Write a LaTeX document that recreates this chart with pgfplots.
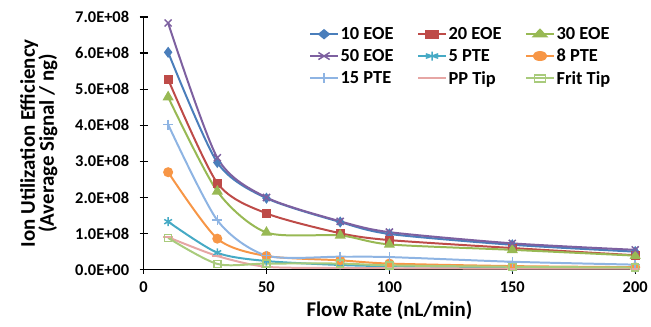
\documentclass[border=0pt]{standalone}
\usepackage{pgfplots}
\pgfplotsset{compat=1.18}
\usepackage{fontspec}
\setmainfont{Carlito}
\usetikzlibrary{plotmarks}
\definecolor{cA}{HTML}{4A7EBB}
\definecolor{cB}{HTML}{BE4B48}
\definecolor{cC}{HTML}{98B954}
\definecolor{cD}{HTML}{7D60A0}
\definecolor{cE}{HTML}{46AAC5}
\definecolor{cF}{HTML}{F79646}
\definecolor{cG}{HTML}{8EB4E3}
\definecolor{cH}{HTML}{E6A6A4}
\definecolor{cI}{HTML}{A9CB7C}
\begin{document}
\begin{tikzpicture}
\begin{axis}[
  scale only axis, width=494pt, height=254pt,
  xmin=0, xmax=200, ymin=0, ymax=7e8,
  axis lines=left, axis line style={line width=1.2pt,-},
  xtick={0,50,100,150,200},
  ytick={0,1e8,2e8,3e8,4e8,5e8,6e8,7e8},
  yticklabels={0.0E+00,1.0E+08,2.0E+08,3.0E+08,4.0E+08,5.0E+08,6.0E+08,7.0E+08},
  scaled y ticks=false,
  tick style={black, line width=1.2pt},
  tick align=center, major tick length=8pt,
  ticklabel style={font=\fontsize{16.5}{18}\selectfont\bfseries},
  /pgf/number format/assume math mode=true,
  xticklabel style={yshift=-5pt},
  yticklabel style={xshift=-7pt},
  xlabel={\fontsize{21}{23}\selectfont\bfseries Flow Rate (nL/min)},
  xlabel style={yshift=-1pt},
  ylabel={\fontsize{21}{22}\selectfont\bfseries\begin{tabular}{c}Ion Utilization Efficiency\\[-3pt](Average Signal / ng)\end{tabular}},
  ylabel style={yshift=8pt, name=ylab},
  legend columns=3,
  legend style={draw=none, fill=none, at={(0.333,0.975)}, anchor=north west,
    font=\fontsize{18.5}{20}\selectfont\bfseries,
    /tikz/every even column/.append style={column sep=22pt},
    row sep=4pt, inner sep=2pt},
  legend cell align=left,
  legend image post style={xscale=1.6},
  every axis plot/.append style={line width=2pt, smooth, tension=0.45},
]
\addplot[cA, mark=diamond*, mark size=4pt] coordinates {(10,6.02e8)(30,2.97e8)(50,1.98e8)(80,1.32e8)(100,0.99e8)(150,0.69e8)(200,0.50e8)};
\addlegendentry{10 EOE}
\addplot[cB, mark=square*, mark size=3.5pt] coordinates {(10,5.27e8)(30,2.40e8)(50,1.56e8)(80,1.01e8)(100,0.82e8)(150,0.60e8)(200,0.40e8)};
\addlegendentry{20 EOE}
\addplot[cC, mark=triangle*, mark size=4.5pt] coordinates {(10,4.78e8)(30,2.17e8)(50,1.03e8)(80,0.95e8)(100,0.70e8)(150,0.55e8)(200,0.39e8)};
\addlegendentry{30 EOE}
\addplot[cD, mark=x, mark size=5pt, mark options={line width=1.5pt}] coordinates {(10,6.83e8)(30,3.10e8)(50,2.00e8)(80,1.34e8)(100,1.04e8)(150,0.73e8)(200,0.55e8)};
\addlegendentry{50 EOE}
\addplot[cE, mark=asterisk, mark size=4.5pt, mark options={line width=1.5pt}] coordinates {(10,1.33e8)(30,0.47e8)(50,0.24e8)(80,0.13e8)(100,0.10e8)(150,0.07e8)(200,0.05e8)};
\addlegendentry{5 PTE}
\addplot[cF, mark=*, mark size=4pt] coordinates {(10,2.70e8)(30,0.86e8)(50,0.38e8)(80,0.26e8)(100,0.17e8)(150,0.10e8)(200,0.07e8)};
\addlegendentry{8 PTE}
\addplot[cG, mark=+, mark size=5pt, mark options={line width=1.5pt}] coordinates {(10,4.02e8)(30,1.37e8)(50,0.39e8)(80,0.36e8)(100,0.35e8)(150,0.22e8)(200,0.14e8)};
\addlegendentry{15 PTE}
\addplot[cH, mark=-, mark size=5pt, mark options={line width=2pt}] coordinates {(10,0.90e8)(30,0.38e8)(50,0.08e8)(80,0.05e8)(100,0.04e8)(150,0.03e8)(200,0.03e8)};
\addlegendentry{PP Tip}
\addplot[cI, mark=square, mark size=3.5pt, mark options={line width=1.5pt}] coordinates {(10,0.88e8)(30,0.16e8)(50,0.17e8)(80,0.17e8)(100,0.12e8)(150,0.08e8)(200,0.06e8)};
\addlegendentry{Frit Tip}
\end{axis}
\path ([xshift=-16pt]ylab.north) ++(0,0);
\path (current axis.south) ++(0,-57pt);
\path (current axis.north east) ++(11pt,17pt);
\end{tikzpicture}
\end{document}
